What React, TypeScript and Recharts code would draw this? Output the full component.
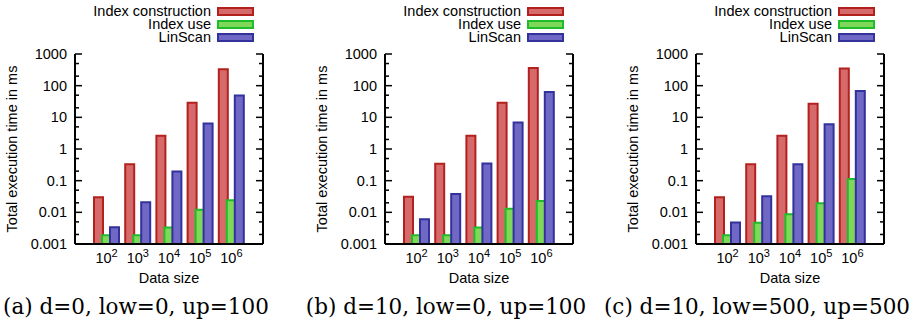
import { BarChart, Bar, XAxis, YAxis } from "recharts";

const sizeExponents = ["2", "3", "4", "5", "6"];
const seriesNames = ["Index construction", "Index use", "LinScan"];
const yTicks = [
  0.001, 0.002, 0.005, 0.01, 0.02, 0.05, 0.1, 0.2, 0.5, 1, 2, 5, 10, 20, 50,
  100, 200, 500, 1000,
];
const majorTicks = [0.001, 0.01, 0.1, 1, 10, 100, 1000];

// (a) d=0, low=0, up=100
const constructionA = [0.03, 0.33, 2.6, 29, 330];
const useA = [0.0019, 0.0019, 0.0033, 0.012, 0.024];
const linScanA = [0.0034, 0.021, 0.195, 6.4, 49];

// (b) d=10, low=0, up=100
const constructionB = [0.031, 0.34, 2.6, 29, 360];
const useB = [0.0019, 0.0019, 0.0033, 0.013, 0.023];
const linScanB = [0.0061, 0.038, 0.35, 6.9, 63];

// (c) d=10, low=500, up=500
const constructionC = [0.03, 0.33, 2.6, 27, 350];
const useC = [0.0019, 0.0047, 0.0087, 0.0195, 0.112];
const linScanC = [0.0048, 0.032, 0.33, 6.0, 68];

const captions = [
  "(a) d=0, low=0, up=100",
  "(b) d=10, low=0, up=100",
  "(c) d=10, low=500, up=500",
];

const FILLS = ["#d66a6a", "#80d85a", "#6f68c4"];
const STROKES = ["#b3211e", "#1fbd2a", "#33319b"];
const SANS = "'Liberation Sans', Arial, sans-serif";
const FS = 14.5;

const LeftTick = (props: any) => {
  const { x, y, payload } = props;
  const v = payload.value;
  const major = majorTicks.includes(v);
  return (
    <g>
      {major && (
        <text x={x} y={y} dy={5} textAnchor="end" fontSize={FS} fontFamily={SANS} fill="#000">
          {String(v)}
        </text>
      )}
      <line x1={x + 8} x2={x + 8 + (major ? 7 : 4)} y1={y} y2={y} stroke="#000" strokeWidth={1.5} />
    </g>
  );
};

const RightTick = (props: any) => {
  const { x, y, payload } = props;
  const major = majorTicks.includes(payload.value);
  return <line x1={x - (major ? 7 : 4)} x2={x} y1={y} y2={y} stroke="#000" strokeWidth={1.5} />;
};

const TopTick = (props: any) => {
  const { x, y } = props;
  return <line x1={x} x2={x} y1={y} y2={y + 5} stroke="#000" strokeWidth={1.5} />;
};

const BottomTick = (props: any) => {
  const { x, y, payload } = props;
  return (
    <text x={x} y={y + 19} textAnchor="middle" fontSize={FS} fontFamily={SANS} fill="#000">
      <tspan>10</tspan>
      <tspan dy={-6} fontSize={11}>
        {payload.value}
      </tspan>
    </text>
  );
};

function Panel({
  left,
  caption,
  construction,
  use,
  linScan,
}: {
  left: number;
  caption: string;
  construction: number[];
  use: number[];
  linScan: number[];
}) {
  const data = sizeExponents.map((e, i) => ({
    size: e,
    construction: construction[i],
    use: use[i],
    linScan: linScan[i],
  }));
  const keys = ["construction", "use", "linScan"];

  return (
    <div style={{ position: "absolute", left, top: 0, width: 288, height: 324 }}>
      <div style={{ position: "absolute", top: 5, left: 0, width: 254, fontFamily: SANS, fontSize: FS }}>
        {seriesNames.map((n, i) => (
          <div key={n} style={{ display: "flex", justifyContent: "flex-end", alignItems: "center", height: 13 }}>
            <span style={{ marginRight: 6, lineHeight: "13px" }}>{n}</span>
            <span
              style={{
                display: "inline-block",
                width: 33,
                height: 5,
                background: FILLS[i],
                border: `2px solid ${STROKES[i]}`,
              }}
            />
          </div>
        ))}
      </div>
      <BarChart
        width={288}
        height={290}
        data={data}
        margin={{ top: 54, right: 0, bottom: 0, left: 0 }}
        barSize={9}
        barGap={-1}
        style={{ position: "absolute", left: 0, top: 0 }}
      >
        <XAxis
          dataKey="size"
          height={46}
          padding={{ left: 16, right: 16 }}
          axisLine={{ stroke: "#000", strokeWidth: 2 }}
          tickLine={false}
          tickSize={0}
          tickMargin={0}
          tick={BottomTick}
          interval={0}
          label={(p: any) => {
            const vb = p.viewBox;
            return (
              <text x={vb.x + vb.width / 2} y={vb.y + 39} textAnchor="middle" fontSize={FS} fontFamily={SANS} fill="#000">
                Data size
              </text>
            );
          }}
        />
        <XAxis
          xAxisId="top"
          dataKey="size"
          orientation="top"
          height={0}
          padding={{ left: 16, right: 16 }}
          axisLine={{ stroke: "#000", strokeWidth: 2 }}
          tickLine={false}
          tickSize={0}
          tickMargin={0}
          tick={TopTick}
          interval={0}
        />
        <YAxis
          scale="log"
          domain={[0.001, 1000]}
          allowDataOverflow
          ticks={yTicks}
          interval={0}
          width={75}
          axisLine={{ stroke: "#000", strokeWidth: 2 }}
          tickLine={false}
          tickSize={0}
          tickMargin={8}
          tick={LeftTick}
          label={(p: any) => {
            const vb = p.viewBox;
            const cx = vb.x + 17;
            const cy = vb.y + vb.height / 2;
            return (
              <text
                x={cx}
                y={cy}
                transform={`rotate(-90 ${cx} ${cy})`}
                textAnchor="middle"
                fontSize={FS}
                fontFamily={SANS}
                fill="#000"
              >
                Total execution time in ms
              </text>
            );
          }}
        />
        <YAxis
          yAxisId="r"
          orientation="right"
          scale="log"
          domain={[0.001, 1000]}
          allowDataOverflow
          ticks={yTicks}
          interval={0}
          width={25}
          axisLine={{ stroke: "#000", strokeWidth: 2 }}
          tickLine={false}
          tickSize={0}
          tickMargin={0}
          tick={RightTick}
        />
        {keys.map((k, i) => (
          <Bar
            key={k}
            dataKey={k}
            name={seriesNames[i]}
            fill={FILLS[i]}
            stroke={STROKES[i]}
            strokeWidth={2}
            isAnimationActive={false}
          />
        ))}
      </BarChart>
      <div
        style={{
          position: "absolute",
          top: 292,
          left: 136,
          transform: "translateX(-50%)",
          whiteSpace: "nowrap",
          fontFamily: "'DejaVu Serif', serif",
          fontSize: 21.5,
          lineHeight: "30px",
          color: "#000",
        }}
      >
        {caption}
      </div>
    </div>
  );
}

export default function App() {
  return (
    <div style={{ position: "fixed", left: 0, top: 0, width: 909, height: 324, background: "#fff", overflow: "hidden" }}>
      <Panel left={0} caption={captions[0]} construction={constructionA} use={useA} linScan={linScanA} />
      <Panel left={310} caption={captions[1]} construction={constructionB} use={useB} linScan={linScanB} />
      <Panel left={621} caption={captions[2]} construction={constructionC} use={useC} linScan={linScanC} />
    </div>
  );
}
